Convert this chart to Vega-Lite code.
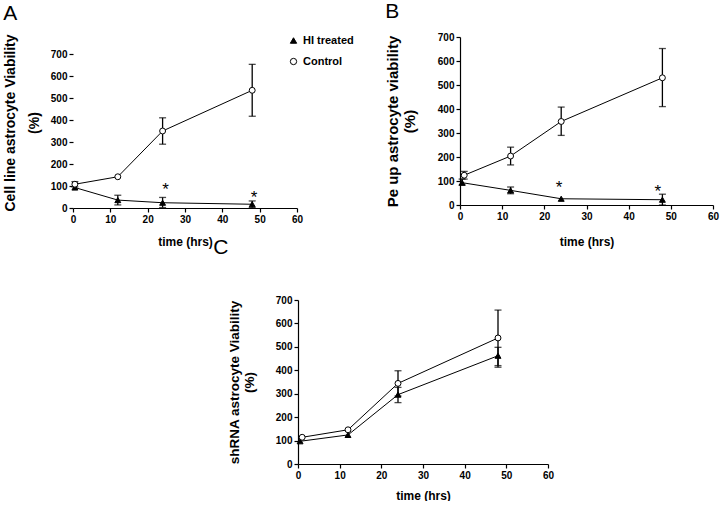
{
  "$schema": "https://vega.github.io/schema/vega-lite/v6.json",
  "background": "white",
  "padding": {"left": 3, "top": 1, "right": 2, "bottom": 0},
  "config": {
    "font": "Liberation Sans",
    "view": {"stroke": null},
    "axis": {"grid": false, "domainColor": "black", "tickColor": "black", "labelColor": "black", "titleColor": "black", "labelFont": "Liberation Sans", "labelFontWeight": "bold", "labelFontSize": 10, "titleFont": "Liberation Sans", "titleFontWeight": "bold", "tickSize": 4, "labelPadding": 2, "domainWidth": 1.2, "tickWidth": 1.2, "labelFlush": false},
    "title": {"color": "black", "font": "Liberation Sans", "fontWeight": "normal", "fontSize": 21, "anchor": "start", "frame": "bounds"},
    "legend": {"symbolStrokeColor": "black", "symbolStrokeWidth": 1}
  },
  "datasets": {
    "pts": [
      {"panel": "A", "series": "HI treated", "t": 0.5, "v": 93},
      {"panel": "A", "series": "HI treated", "t": 12, "v": 36, "lo": 14, "hi": 58},
      {"panel": "A", "series": "HI treated", "t": 24, "v": 24, "lo": 2, "hi": 48},
      {"panel": "A", "series": "HI treated", "t": 48, "v": 17, "lo": 2, "hi": 32},
      {"panel": "A", "series": "Control", "t": 0.5, "v": 108, "lo": 96, "hi": 120},
      {"panel": "A", "series": "Control", "t": 12, "v": 142},
      {"panel": "A", "series": "Control", "t": 24, "v": 350, "lo": 290, "hi": 410},
      {"panel": "A", "series": "Control", "t": 48, "v": 535, "lo": 417, "hi": 653},
      {"panel": "B", "series": "HI treated", "t": 0.5, "v": 93, "lo": 83, "hi": 108},
      {"panel": "B", "series": "HI treated", "t": 12, "v": 61, "lo": 47, "hi": 75},
      {"panel": "B", "series": "HI treated", "t": 24, "v": 26},
      {"panel": "B", "series": "HI treated", "t": 48, "v": 22, "lo": 0, "hi": 45},
      {"panel": "B", "series": "Control", "t": 1, "v": 124, "lo": 108, "hi": 140},
      {"panel": "B", "series": "Control", "t": 12, "v": 204, "lo": 167, "hi": 241},
      {"panel": "B", "series": "Control", "t": 24, "v": 348, "lo": 290, "hi": 408},
      {"panel": "B", "series": "Control", "t": 48, "v": 530, "lo": 410, "hi": 652},
      {"panel": "C", "series": "HI treated", "t": 0.5, "v": 97},
      {"panel": "C", "series": "HI treated", "t": 12, "v": 124},
      {"panel": "C", "series": "HI treated", "t": 24, "v": 296, "lo": 262, "hi": 327},
      {"panel": "C", "series": "HI treated", "t": 48, "v": 462, "lo": 413, "hi": 498},
      {"panel": "C", "series": "Control", "t": 1, "v": 114},
      {"panel": "C", "series": "Control", "t": 12, "v": 146},
      {"panel": "C", "series": "Control", "t": 24, "v": 344, "lo": 290, "hi": 398},
      {"panel": "C", "series": "Control", "t": 48, "v": 538, "lo": 420, "hi": 657}
    ],
    "stars": [
      {"panel": "A", "t": 24.8, "v": 100},
      {"panel": "A", "t": 48.5, "v": 65},
      {"panel": "B", "t": 23.5, "v": 89},
      {"panel": "B", "t": 46.9, "v": 70}
    ]
  },
  "columns": 1,
  "align": "none",
  "spacing": -10,
  "concat": [
    {
      "columns": 2,
      "align": "none",
      "spacing": 82,
      "concat": [
        {
          "width": 224, "height": 171,
          "title": {"text": "A", "offset": 10},
          "encoding": {
            "x": {"field": "t", "type": "quantitative", "scale": {"domain": [0, 60], "nice": false}, "axis": {"title": "time (hrs)", "values": [0, 10, 20, 30, 40, 50, 60], "titleFontSize": 12, "titlePadding": 12}},
            "y": {"field": "v", "type": "quantitative", "scale": {"domain": [0, 777.3], "nice": false}, "axis": {"title": ["Cell line astrocyte Viability", "(%)"], "domain": false, "values": [0, 100, 200, 300, 400, 500, 600, 700], "titleFontSize": 14, "titleLineHeight": 24, "titlePadding": 9}}
          },
          "layer": [
            {"mark": {"type": "rule", "color": "black", "strokeWidth": 1.2},
             "encoding": {"x": {"datum": 0, "type": "quantitative"}, "y": {"datum": 0, "type": "quantitative"}, "y2": {"datum": 700}}},
            {"data": {"name": "pts"}, "transform": [{"filter": "datum.panel == 'A'"}],
             "mark": {"type": "line", "color": "black", "strokeWidth": 1},
             "encoding": {"detail": {"field": "series"}}},
            {"data": {"name": "pts"}, "transform": [{"filter": "datum.panel == 'A' && isValid(datum.lo)"}],
             "mark": {"type": "rule", "color": "black", "strokeWidth": 1.3},
             "encoding": {"y": {"field": "lo", "type": "quantitative", "title": ["Cell line astrocyte Viability", "(%)"]}, "y2": {"field": "hi"}}},
            {"data": {"name": "pts"}, "transform": [{"filter": "datum.panel == 'A' && isValid(datum.lo)"}],
             "mark": {"type": "tick", "orient": "horizontal", "color": "black", "size": 7, "thickness": 1.3},
             "encoding": {"y": {"field": "lo", "type": "quantitative", "title": ["Cell line astrocyte Viability", "(%)"]}}},
            {"data": {"name": "pts"}, "transform": [{"filter": "datum.panel == 'A' && isValid(datum.hi)"}],
             "mark": {"type": "tick", "orient": "horizontal", "color": "black", "size": 7, "thickness": 1.3},
             "encoding": {"y": {"field": "hi", "type": "quantitative", "title": ["Cell line astrocyte Viability", "(%)"]}}},
            {"data": {"name": "pts"}, "transform": [{"filter": "datum.panel == 'A'"}],
             "mark": {"type": "point", "strokeWidth": 1, "size": 35, "opacity": 1},
             "encoding": {
               "shape": {"field": "series", "type": "nominal", "scale": {"domain": ["HI treated", "Control"], "range": ["triangle-up", "circle"]}, "legend": {"title": null, "orient": "none", "legendX": 215, "legendY": -2, "labelFontSize": 11, "labelFontWeight": "bold", "labelFont": "Liberation Sans", "labelColor": "black", "rowPadding": 9, "symbolSize": 40}},
               "fill": {"field": "series", "type": "nominal", "scale": {"domain": ["HI treated", "Control"], "range": ["black", "white"]}, "legend": {"title": null, "orient": "none", "legendX": 215, "legendY": -2, "labelFontSize": 11, "labelFontWeight": "bold", "labelFont": "Liberation Sans", "labelColor": "black", "rowPadding": 9, "symbolSize": 40}},
               "stroke": {"field": "series", "type": "nominal", "scale": {"domain": ["HI treated", "Control"], "range": ["black", "black"]}, "legend": {"title": null, "orient": "none", "legendX": 215, "legendY": -2, "labelFontSize": 11, "labelFontWeight": "bold", "labelFont": "Liberation Sans", "labelColor": "black", "rowPadding": 9, "symbolSize": 40}}}},
            {"data": {"name": "stars"}, "transform": [{"filter": "datum.panel == 'A'"}],
             "mark": {"type": "text", "text": "*", "fontSize": 17, "color": "black", "fill": "black", "baseline": "middle", "dy": 4}}
          ]
        },
        {
          "width": 253, "height": 168,
          "title": {"text": "B", "offset": 10},
          "encoding": {
            "x": {"field": "t", "type": "quantitative", "scale": {"domain": [0, 60], "nice": false}, "axis": {"title": "time (hrs)", "values": [0, 10, 20, 30, 40, 50, 60], "titleFontSize": 12, "titlePadding": 15}},
            "y": {"field": "v", "type": "quantitative", "scale": {"domain": [0, 700], "nice": false}, "axis": {"title": ["Pe up astrocyte viability", "(%)"], "values": [0, 100, 200, 300, 400, 500, 600, 700], "titleFontSize": 15, "titleLineHeight": 17, "titlePadding": 20}}
          },
          "layer": [
            {"data": {"name": "pts"}, "transform": [{"filter": "datum.panel == 'B'"}],
             "mark": {"type": "line", "color": "black", "strokeWidth": 1},
             "encoding": {"detail": {"field": "series"}}},
            {"data": {"name": "pts"}, "transform": [{"filter": "datum.panel == 'B' && isValid(datum.lo)"}],
             "mark": {"type": "rule", "color": "black", "strokeWidth": 1.3},
             "encoding": {"y": {"field": "lo", "type": "quantitative", "title": ["Pe up astrocyte viability", "(%)"]}, "y2": {"field": "hi"}}},
            {"data": {"name": "pts"}, "transform": [{"filter": "datum.panel == 'B' && isValid(datum.lo)"}],
             "mark": {"type": "tick", "orient": "horizontal", "color": "black", "size": 7, "thickness": 1.3},
             "encoding": {"y": {"field": "lo", "type": "quantitative", "title": ["Pe up astrocyte viability", "(%)"]}}},
            {"data": {"name": "pts"}, "transform": [{"filter": "datum.panel == 'B' && isValid(datum.hi)"}],
             "mark": {"type": "tick", "orient": "horizontal", "color": "black", "size": 7, "thickness": 1.3},
             "encoding": {"y": {"field": "hi", "type": "quantitative", "title": ["Pe up astrocyte viability", "(%)"]}}},
            {"data": {"name": "pts"}, "transform": [{"filter": "datum.panel == 'B'"}],
             "mark": {"type": "point", "stroke": "black", "strokeWidth": 1, "size": 35, "opacity": 1},
             "encoding": {
               "shape": {"field": "series", "type": "nominal", "scale": {"domain": ["HI treated", "Control"], "range": ["triangle-up", "circle"]}, "legend": null},
               "fill": {"field": "series", "type": "nominal", "scale": {"domain": ["HI treated", "Control"], "range": ["black", "white"]}, "legend": null}}},
            {"data": {"name": "stars"}, "transform": [{"filter": "datum.panel == 'B'"}],
             "mark": {"type": "text", "text": "*", "fontSize": 17, "color": "black", "fill": "black", "baseline": "middle", "dy": 4}}
          ]
        }
      ]
    },
    {
      "columns": 2,
      "align": "none",
      "spacing": 0,
      "concat": [
        {"width": 140, "height": 20, "data": {"values": []}, "mark": "point"},
        {
          "width": 250, "height": 164,
          "title": {"text": "C", "offset": 37, "dx": -14},
          "encoding": {
            "x": {"field": "t", "type": "quantitative", "scale": {"domain": [0, 60], "nice": false}, "axis": {"title": "time (hrs)", "values": [0, 10, 20, 30, 40, 50, 60], "titleFontSize": 12, "titlePadding": 10}},
            "y": {"field": "v", "type": "quantitative", "scale": {"domain": [0, 700], "nice": false}, "axis": {"title": ["shRNA astrocyte Viability", "(%)"], "values": [0, 100, 200, 300, 400, 500, 600, 700], "titleFontSize": 13.5, "titleLineHeight": 15, "titlePadding": 19}}
          },
          "layer": [
            {"data": {"name": "pts"}, "transform": [{"filter": "datum.panel == 'C'"}],
             "mark": {"type": "line", "color": "black", "strokeWidth": 1},
             "encoding": {"detail": {"field": "series"}}},
            {"data": {"name": "pts"}, "transform": [{"filter": "datum.panel == 'C' && isValid(datum.lo)"}],
             "mark": {"type": "rule", "color": "black", "strokeWidth": 1.3},
             "encoding": {"y": {"field": "lo", "type": "quantitative", "title": ["shRNA astrocyte Viability", "(%)"]}, "y2": {"field": "hi"}}},
            {"data": {"name": "pts"}, "transform": [{"filter": "datum.panel == 'C' && isValid(datum.lo)"}],
             "mark": {"type": "tick", "orient": "horizontal", "color": "black", "size": 7, "thickness": 1.3},
             "encoding": {"y": {"field": "lo", "type": "quantitative", "title": ["shRNA astrocyte Viability", "(%)"]}}},
            {"data": {"name": "pts"}, "transform": [{"filter": "datum.panel == 'C' && isValid(datum.hi)"}],
             "mark": {"type": "tick", "orient": "horizontal", "color": "black", "size": 7, "thickness": 1.3},
             "encoding": {"y": {"field": "hi", "type": "quantitative", "title": ["shRNA astrocyte Viability", "(%)"]}}},
            {"data": {"name": "pts"}, "transform": [{"filter": "datum.panel == 'C'"}],
             "mark": {"type": "point", "stroke": "black", "strokeWidth": 1, "size": 35, "opacity": 1},
             "encoding": {
               "shape": {"field": "series", "type": "nominal", "scale": {"domain": ["HI treated", "Control"], "range": ["triangle-up", "circle"]}, "legend": null},
               "fill": {"field": "series", "type": "nominal", "scale": {"domain": ["HI treated", "Control"], "range": ["black", "white"]}, "legend": null}}}
          ]
        }
      ]
    }
  ]
}
